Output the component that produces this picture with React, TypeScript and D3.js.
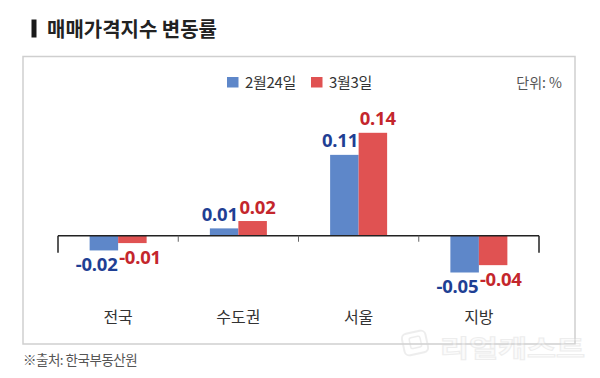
import React from "react";
import * as d3 from "d3";

const categories = ["전국", "수도권", "서울", "지방"];
const seriesNames = ["2월24일", "3월3일"];
const feb24 = [-0.02, 0.01, 0.11, -0.05];
const mar3 = [-0.01, 0.02, 0.14, -0.04];
const labelsFeb24 = ["-0.02", "0.01", "0.11", "-0.05"];
const labelsMar3 = ["-0.01", "0.02", "0.14", "-0.04"];

const W = 600;
const H = 378;
const KR = "'Noto Sans CJK KR', 'Noto Sans', sans-serif";
const NUM = "'Noto Sans', 'Open Sans', sans-serif";
const BLUE = "#5e87c9";
const RED = "#e05252";
const BLUE_T = "#1f3f94";
const RED_T = "#c4262c";

export default function App() {
  const x = d3.scaleBand<string>().domain(categories).range([58, 539]).paddingInner(0).paddingOuter(0);
  const y = d3.scaleLinear().domain([-0.05, 0.14]).range([272.5, 132.8]);
  const bw = 28.5;
  const y0 = y(0);
  const series = [
    { vals: feb24, labels: labelsFeb24, color: BLUE, tcolor: BLUE_T, off: -bw },
    { vals: mar3, labels: labelsMar3, color: RED, tcolor: RED_T, off: 0 },
  ];
  const ticks = d3.range(categories.length + 1).map((i) => 58 + i * x.bandwidth());

  return (
    <svg width={W} height={H} style={{ position: "absolute", left: 0, top: 0, background: "#fff" }}>
      <rect x={0} y={0} width={W} height={H} fill="#fff" />
      {/* title */}
      <rect x={31.5} y={19.5} width={5} height={18} fill="#1a1a1a" />
      <text x={47} y={37} fontFamily={KR} fontWeight={700} fontSize={20.5} textLength={170} lengthAdjust="spacingAndGlyphs" fill="#222">
        매매가격지수 변동률
      </text>
      {/* box */}
      <rect x={23} y={56.5} width={552} height={287.5} fill="none" stroke="#cfcfcf" strokeWidth={1.5} />
      {/* legend */}
      <rect x={227} y={77} width={11.5} height={10.5} fill={BLUE} />
      <text x={245} y={87.5} fontFamily={KR} fontSize={15} fill="#333" letterSpacing={-0.3}>{seriesNames[0]}</text>
      <rect x={311} y={77} width={11.5} height={10.5} fill={RED} />
      <text x={329} y={87.5} fontFamily={KR} fontSize={15} fill="#333" letterSpacing={-0.3}>{seriesNames[1]}</text>
      <text x={562} y={87.5} textAnchor="end" fontFamily={KR} fontSize={14} fill="#555">단위: %</text>
      {/* bars */}
      {series.map((s, si) =>
        categories.map((c, i) => {
          const cx = (x(c) as number) + x.bandwidth() / 2;
          const bx = cx + s.off;
          const v = s.vals[i];
          const top = Math.min(y(v), y0);
          const h = Math.abs(y(v) - y0);
          const ly = v >= 0 ? y(v) - 7.5 : y(v) + 20.5;
          const anchor = si === 0 ? "end" : "start";
          const lx = si === 0 ? bx + bw - 0.5 : bx + 1;
          return (
            <g key={`${si}-${i}`}>
              <rect x={bx} y={top} width={bw} height={h} fill={s.color} />
              <text x={lx} y={ly} textAnchor={anchor} fontFamily={NUM} fontWeight={700} fontSize={18.5} letterSpacing={-0.2} fill={s.tcolor}>
                {s.labels[i]}
              </text>
            </g>
          );
        })
      )}
      {/* axis */}
      <line x1={58} x2={539} y1={y0} y2={y0} stroke="#222" strokeWidth={1.5} />
      {ticks.map((t, i) => {
        const end = i === 0 || i === ticks.length - 1;
        return <line key={i} x1={t} x2={t} y1={y0} y2={end ? y0 + 17 : y0 + 6} stroke={end ? "#222" : "#666"} strokeWidth={end ? 1.5 : 1} />;
      })}
      {categories.map((c) => (
        <text key={c} x={(x(c) as number) + x.bandwidth() / 2} y={323} textAnchor="middle" fontFamily={KR} fontSize={16} fill="#333">
          {c}
        </text>
      ))}
      {/* watermark */}
      <g opacity={0.4}>
        <rect x={403} y={332} width={24} height={22} rx={5} fill="none" stroke="#d4d4d4" strokeWidth={2} transform="rotate(-12 415 343)" />
        <rect x={410} y={337} width={11} height={11} rx={2} fill="none" stroke="#d4d4d4" strokeWidth={1.5} transform="rotate(-12 415 343)" />
        <text x={440} y={357} fontFamily={KR} fontWeight={700} fontSize={24} textLength={145} lengthAdjust="spacingAndGlyphs" fill="#f6f6f6" stroke="#d4d4d4" strokeWidth={1}>
          리얼캐스트
        </text>
      </g>
      {/* footer */}
      <text x={23} y={365} fontFamily={KR} fontSize={13.5} fill="#555" letterSpacing={-0.5}>※출처: 한국부동산원</text>
    </svg>
  );
}
